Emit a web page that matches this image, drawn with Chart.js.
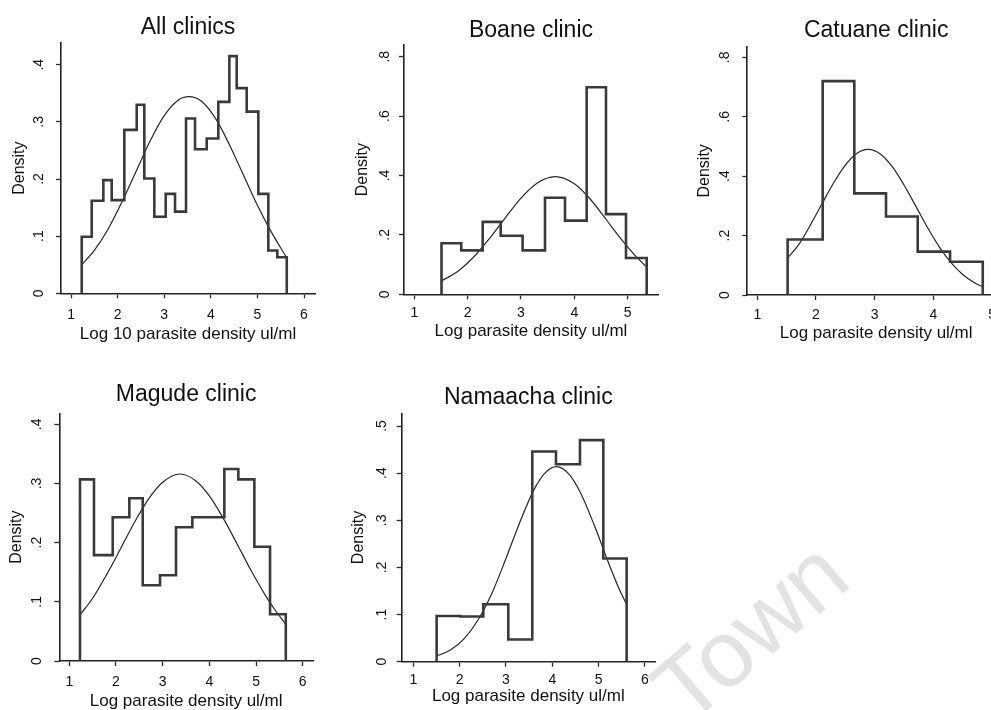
<!DOCTYPE html>
<html><head><meta charset="utf-8">
<script src="https://cdn.jsdelivr.net/npm/chart.js@4.4.1/dist/chart.umd.min.js"></script>
<style>
html,body{margin:0;padding:0;background:#fff;width:991px;height:710px;overflow:hidden;position:relative;}
canvas{position:absolute;}
#wm{position:absolute;left:636px;top:667px;font-family:"Liberation Sans",Arial,sans-serif;font-size:94px;line-height:1;color:#e3e3e3;transform-origin:0 0;transform:rotate(-40.6deg);white-space:nowrap;}
</style></head><body>
<div id="wm">Town</div>
<canvas id="c1"></canvas><canvas id="c2"></canvas><canvas id="c3"></canvas><canvas id="c4"></canvas><canvas id="c5"></canvas>
<script>
// ---------- data ----------
const panelTitles = ['All clinics', 'Boane clinic', 'Catuane clinic', 'Magude clinic', 'Namaacha clinic'];
const xAxisTitles = ['Log 10 parasite density ul/ml', 'Log parasite density ul/ml', 'Log parasite density ul/ml', 'Log parasite density ul/ml', 'Log parasite density ul/ml'];
const yAxisTitle = 'Density';

const xTicks6 = [1, 2, 3, 4, 5, 6];
const xTicks5 = [1, 2, 3, 4, 5];
const yTicksTenth4 = [0, 0.1, 0.2, 0.3, 0.4];
const yTicksTenth5 = [0, 0.1, 0.2, 0.3, 0.4, 0.5];
const yTicksFifth = [0, 0.2, 0.4, 0.6, 0.8];

const allEdges = [1.23, 1.444, 1.694, 1.873, 2.144, 2.41, 2.573, 2.788, 3.032, 3.232, 3.468, 3.661, 3.912, 4.161, 4.398, 4.556, 4.77, 5.02, 5.234, 5.427, 5.63];
const allDensity = [0.099, 0.162, 0.198, 0.163, 0.286, 0.33, 0.201, 0.134, 0.174, 0.143, 0.306, 0.252, 0.271, 0.335, 0.415, 0.359, 0.318, 0.174, 0.075, 0.063];
const allCurveX = [1.23, 1.5, 1.8, 2.1, 2.4, 2.7, 3.0, 3.3, 3.53, 3.8, 4.1, 4.4, 4.7, 5.0, 5.3, 5.63];
const allCurveY = [0.05, 0.075, 0.113, 0.161, 0.214, 0.267, 0.311, 0.338, 0.344, 0.336, 0.306, 0.26, 0.207, 0.154, 0.107, 0.062];

const boaneEdges = [1.51, 1.88, 2.282, 2.62, 3.03, 3.45, 3.825, 4.231, 4.593, 4.968, 5.356];
const boaneDensity = [0.172, 0.148, 0.244, 0.197, 0.148, 0.325, 0.248, 0.697, 0.27, 0.122];
const boaneCurveX = [1.51, 1.8, 2.1, 2.4, 2.7, 3.0, 3.3, 3.64, 4.0, 4.3, 4.6, 4.9, 5.2, 5.356];
const boaneCurveY = [0.045, 0.075, 0.123, 0.186, 0.256, 0.324, 0.374, 0.396, 0.372, 0.32, 0.251, 0.181, 0.119, 0.092];

const catuaneEdges = [1.517, 2.114, 2.653, 3.193, 3.733, 4.284, 4.841];
const catuaneDensity = [0.187, 0.72, 0.342, 0.264, 0.146, 0.112];
const catuaneCurveX = [1.517, 1.7, 1.9, 2.1, 2.3, 2.5, 2.7, 2.89, 3.1, 3.3, 3.5, 3.7, 3.9, 4.1, 4.3, 4.5, 4.7, 4.841];
const catuaneCurveY = [0.125, 0.168, 0.234, 0.306, 0.377, 0.437, 0.477, 0.49, 0.474, 0.432, 0.37, 0.299, 0.227, 0.162, 0.109, 0.069, 0.041, 0.028];

const magudeEdges = [1.229, 1.529, 1.93, 2.286, 2.573, 2.943, 3.286, 3.636, 3.98, 4.321, 4.621, 4.964, 5.3, 5.637];
const magudeDensity = [0.307, 0.179, 0.243, 0.275, 0.128, 0.145, 0.226, 0.243, 0.243, 0.3245, 0.307, 0.193, 0.079];
const magudeCurveX = [1.229, 1.5, 1.8, 2.1, 2.4, 2.7, 3.0, 3.37, 3.7, 4.0, 4.3, 4.6, 4.9, 5.2, 5.4, 5.637];
const magudeCurveY = [0.078, 0.106, 0.146, 0.19, 0.235, 0.274, 0.302, 0.316, 0.305, 0.279, 0.241, 0.197, 0.152, 0.111, 0.087, 0.062];

const namaachaEdges = [1.504, 2.014, 2.511, 3.05, 3.568, 4.079, 4.597, 5.101, 5.604];
const namaachaDensity = [0.097, 0.096, 0.122, 0.047, 0.446, 0.419, 0.47, 0.219];
const namaachaCurveX = [1.504, 1.8, 2.1, 2.4, 2.7, 3.0, 3.3, 3.6, 3.85, 4.09, 4.35, 4.6, 4.9, 5.2, 5.4, 5.604];
const namaachaCurveY = [0.012, 0.025, 0.049, 0.089, 0.146, 0.219, 0.296, 0.364, 0.401, 0.414, 0.399, 0.36, 0.291, 0.213, 0.164, 0.121];

// ---------- layout (positions only) ----------
const FONT = '"Liberation Sans", Arial, sans-serif';
Chart.defaults.font.family = FONT;
Chart.defaults.color = '#111';

const layouts = [
  {L:0,   T:0,   W:330, H:350, aL:61,    aR:315,  aB:293.3, xMin:0.785, xMax:6.236, yMax:0.438,  tPt:14.2, tPb:1.2, yTitlePad:9.9,  yTickPad:10.7, xTickPad:8.7, xTitlePb:5.2},
  {L:335, T:0,   W:330, H:350, aL:404,   aR:658,  aB:294.3, xMin:0.807, xMax:5.568, yMax:0.8394, tPt:17.2, tPb:0.2, yTitlePad:17.9, yTickPad:8.2,  xTickPad:5.4, xTitlePb:8.5},
  {L:670, T:0,   W:360, H:350, aL:747.3, aR:1005, aB:295,   xMin:0.83,  xMax:5.22,  yMax:0.8357, tPt:17.2, tPb:1.9, yTitlePad:24.9, yTickPad:11.5, xTickPad:7,   xTitlePb:6.8},
  {L:0,   T:355, W:330, H:360, aL:59.3,  aR:313,  aB:661,   xMin:0.786, xMax:6.22,  yMax:0.4186, tPt:26.2, tPb:4.5, yTitlePad:7.2,  yTickPad:11,   xTickPad:7.7, xTitlePb:3.5},
  {L:335, T:355, W:330, H:360, aL:401.7, aR:655,  aB:661.7, xMin:0.75,  xMax:6.216, yMax:0.527,  tPt:28.7, tPb:2,   yTitlePad:14.2, yTickPad:9.2,  xTickPad:5.3, xTitlePb:8.5}
];

function histPoints(edges, dens) {
  const pts = [{x: edges[0], y: 0}];
  dens.forEach((d, i) => pts.push({x: edges[i], y: d}));
  pts.push({x: edges[edges.length - 1], y: dens[dens.length - 1]});
  pts.push({x: edges[edges.length - 1], y: 0});
  return pts;
}
function curvePoints(xs, ys) { return xs.map((x, i) => ({x, y: ys[i]})); }
function yFmt(v) { return v === 0 ? '0' : String(Math.round(v * 10) / 10).replace(/^0\./, '.'); }

function makePanel(id, title, xTitle, edges, dens, cx, cy, xTicks, yTicks, lay) {
  const el = document.getElementById(id);
  el.width = lay.W; el.height = lay.H;
  el.style.left = lay.L + 'px'; el.style.top = lay.T + 'px';
  el.style.width = lay.W + 'px'; el.style.height = lay.H + 'px';
  const gridOpts = {display: true, drawOnChartArea: false, drawTicks: true, tickLength: 5, tickWidth: 1.3, tickColor: '#2a2a2a'};
  const borderOpts = {display: true, color: '#222', width: 1.6};
  new Chart(el, {
    type: 'scatter',
    data: {datasets: [
      {data: histPoints(edges, dens), showLine: true, stepped: 'before', borderColor: '#3a3a3a', borderWidth: 2.6, pointRadius: 0, fill: false},
      {data: curvePoints(cx, cy), showLine: true, cubicInterpolationMode: 'monotone', borderColor: '#262626', borderWidth: 1.2, pointRadius: 0, fill: false}
    ]},
    options: {
      responsive: false, animation: false, devicePixelRatio: 1,
      layout: {padding: {left: 0, top: 0, bottom: 0, right: lay.L + lay.W - lay.aR}},
      plugins: {
        legend: {display: false}, tooltip: {enabled: false},
        title: {display: true, text: title, fullSize: false, color: '#111', font: {size: 23, weight: 'normal', family: FONT, lineHeight: 1.2}, padding: {top: lay.tPt, bottom: lay.tPb}}
      },
      scales: {
        x: {
          type: 'linear', position: 'bottom', min: lay.xMin, max: lay.xMax,
          afterBuildTicks: s => { s.ticks = xTicks.map(v => ({value: v})); },
          afterFit: s => { s.height = lay.T + lay.H - lay.aB; },
          ticks: {font: {size: 14}, color: '#111', padding: lay.xTickPad, autoSkip: false, maxRotation: 0, callback: v => String(v)},
          grid: gridOpts, border: borderOpts,
          title: {display: true, text: xTitle, color: '#111', font: {size: 17, lineHeight: 1.2}, padding: {top: 0, bottom: lay.xTitlePb}}
        },
        y: {
          type: 'linear', position: 'left', min: 0, max: lay.yMax,
          afterBuildTicks: s => { s.ticks = yTicks.map(v => ({value: v})); },
          afterFit: s => { s.width = lay.aL - lay.L; },
          ticks: {font: {size: 14}, color: '#111', padding: lay.yTickPad, autoSkip: false, minRotation: 90, maxRotation: 90, crossAlign: 'center', callback: v => yFmt(v)},
          grid: gridOpts, border: borderOpts,
          title: {display: true, text: yAxisTitle, color: '#111', font: {size: 16, lineHeight: 1.2}, padding: {top: lay.yTitlePad, bottom: 0}}
        }
      }
    }
  });
}

makePanel('c1', panelTitles[0], xAxisTitles[0], allEdges, allDensity, allCurveX, allCurveY, xTicks6, yTicksTenth4, layouts[0]);
makePanel('c2', panelTitles[1], xAxisTitles[1], boaneEdges, boaneDensity, boaneCurveX, boaneCurveY, xTicks5, yTicksFifth, layouts[1]);
makePanel('c3', panelTitles[2], xAxisTitles[2], catuaneEdges, catuaneDensity, catuaneCurveX, catuaneCurveY, xTicks5, yTicksFifth, layouts[2]);
makePanel('c4', panelTitles[3], xAxisTitles[3], magudeEdges, magudeDensity, magudeCurveX, magudeCurveY, xTicks6, yTicksTenth4, layouts[3]);
makePanel('c5', panelTitles[4], xAxisTitles[4], namaachaEdges, namaachaDensity, namaachaCurveX, namaachaCurveY, xTicks6, yTicksTenth5, layouts[4]);
</script>
</body></html>
